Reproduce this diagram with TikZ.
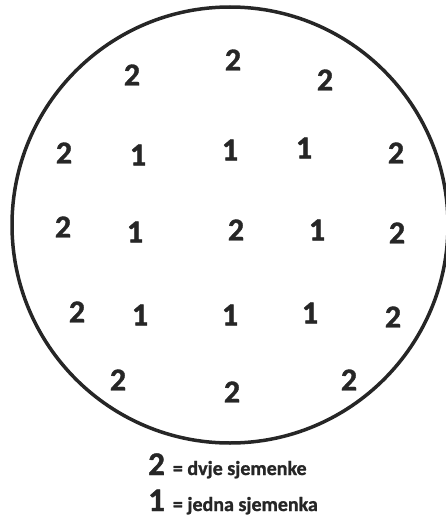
\documentclass[tikz,border=0pt]{standalone}
\usepackage{fontspec}
\setmainfont{Carlito}[BoldFeatures={FakeBold=1.2}]
\definecolor{ink}{HTML}{262626}
\begin{document}
\begin{tikzpicture}[x=1pt,y=-1pt,
  seed/.style={inner sep=0pt, text=ink, font=\bfseries\fontsize{32}{32}\selectfont},
  legend/.style={inner sep=0pt, anchor=base west, text=ink, font=\bfseries}]
\useasboundingbox (0,0) rectangle (445,519);
\node[circle, draw=ink, line width=3.5pt, minimum size=436pt, inner sep=0pt] (plate) at (230,225) {};
% row 0
\node[seed] (a1) at (132,75) {2};
\node[seed] (a2) at (233,60) {2};
\node[seed] (a3) at (325,80) {2};
% row 1
\node[seed] (b1) at (64,153) {2};
\node[seed] (b2) at (138,155) {1};
\node[seed] (b3) at (230,150) {1};
\node[seed] (b4) at (304,148) {1};
\node[seed] (b5) at (396,153) {2};
% row 2
\node[seed] (c1) at (63,227) {2};
\node[seed] (c2) at (135,232) {1};
\node[seed] (c3) at (236,230) {2};
\node[seed] (c4) at (317,230) {1};
\node[seed] (c5) at (397,233) {2};
% row 3
\node[seed] (d1) at (77,312) {2};
\node[seed] (d2) at (140,315) {1};
\node[seed] (d3) at (230,315) {1};
\node[seed] (d4) at (310,313) {1};
\node[seed] (d5) at (393,317) {2};
% row 4
\node[seed] (e1) at (118,380) {2};
\node[seed] (e2) at (232,392) {2};
\node[seed] (e3) at (349,380) {2};
% legend
\node[legend] (l2) at (148,475) {{\fontsize{33}{33}\selectfont 2}\hspace{8pt}{\fontsize{20}{20}\selectfont = dvje sjemenke}};
\node[legend] (l1) at (148,511) {{\fontsize{33}{33}\selectfont 1}\hspace{8pt}{\fontsize{20}{20}\selectfont = jedna sjemenka}};
\end{tikzpicture}
\end{document}
